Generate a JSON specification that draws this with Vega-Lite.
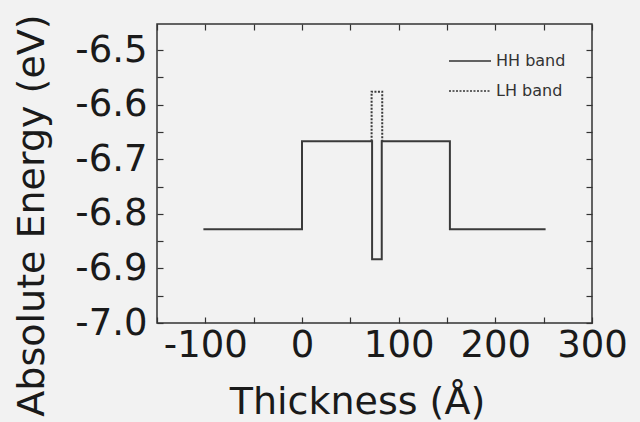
{
  "$schema": "https://vega.github.io/schema/vega-lite/v6.json",
  "width": 435,
  "height": 299,
  "autosize": {"type": "none"},
  "padding": {"left": 157, "top": 24, "right": 48, "bottom": 99},
  "background": "#f2f2f2",
  "config": {
    "font": "DejaVu Sans",
    "view": {"stroke": "#333333", "strokeWidth": 1.5},
    "axis": {"grid": false, "domain": false, "tickColor": "#333333", "tickWidth": 1.2, "labelColor": "#1a1a1a", "titleColor": "#1a1a1a", "labelFont": "DejaVu Sans", "titleFont": "DejaVu Sans", "titleFontWeight": "normal"}
  },
  "data": {
    "values": [
      {"band": "HH band", "i": 0, "x": -102, "y": -6.828},
      {"band": "HH band", "i": 1, "x": 0, "y": -6.828},
      {"band": "HH band", "i": 2, "x": 0, "y": -6.667},
      {"band": "HH band", "i": 3, "x": 72.5, "y": -6.667},
      {"band": "HH band", "i": 4, "x": 72.5, "y": -6.883},
      {"band": "HH band", "i": 5, "x": 82.5, "y": -6.883},
      {"band": "HH band", "i": 6, "x": 82.5, "y": -6.667},
      {"band": "HH band", "i": 7, "x": 153, "y": -6.667},
      {"band": "HH band", "i": 8, "x": 153, "y": -6.828},
      {"band": "HH band", "i": 9, "x": 252, "y": -6.828},
      {"band": "LH band", "i": 0, "x": 72, "y": -6.667},
      {"band": "LH band", "i": 1, "x": 72, "y": -6.576},
      {"band": "LH band", "i": 2, "x": 83, "y": -6.576},
      {"band": "LH band", "i": 3, "x": 83, "y": -6.667}
    ]
  },
  "layer": [
    {
      "mark": {"type": "line", "stroke": "#3a3a3a", "strokeWidth": 2},
      "encoding": {
        "x": {
          "field": "x", "type": "quantitative",
          "scale": {"domain": [-150, 300], "nice": false, "zero": false},
          "axis": {
            "values": [-150, -100, -50, 0, 50, 100, 150, 200, 250, 300],
            "labelExpr": "datum.value % 100 == 0 ? replace(format(datum.value, 'd'), '\u2212', '-') : ''",
            "tickSize": -6, "labelPadding": 10, "labelFontSize": 37, "labelFlush": false,
            "title": "Thickness (\u00c5)", "titleFontSize": 38,
            "titleX": 200, "titleY": 90, "titleBaseline": "alphabetic", "titleAnchor": "middle", "titleAlign": "center"
          }
        },
        "y": {
          "field": "y", "type": "quantitative",
          "scale": {"domain": [-7.0, -6.452], "nice": false, "zero": false},
          "axis": {
            "values": [-7.0, -6.95, -6.9, -6.85, -6.8, -6.75, -6.7, -6.65, -6.6, -6.55, -6.5],
            "labelExpr": "abs(datum.value*10 - round(datum.value*10)) < 0.001 ? replace(format(datum.value, '.1f'), '\u2212', '-') : ''",
            "tickSize": -6, "labelPadding": 16, "labelFontSize": 37,
            "title": "Absolute Energy (eV)", "titleFontSize": 38,
            "titleX": -125, "titleY": 191, "titleBaseline": "middle", "titleAngle": -90, "titleAlign": "center"
          }
        },
        "order": {"field": "i", "type": "quantitative"},
        "strokeDash": {
          "field": "band", "type": "nominal",
          "scale": {"domain": ["HH band", "LH band"], "range": [[1, 0], [2, 1.5]]},
          "legend": {
            "title": null, "orient": "none", "legendX": 291, "legendY": 15,
            "symbolType": "stroke", "symbolSize": 1764, "symbolStrokeColor": "#333333", "symbolStrokeWidth": 1.5,
            "labelFontSize": 16, "labelColor": "#333333", "labelOffset": 4, "rowPadding": -2
          }
        }
      }
    },
    {
      "mark": {"type": "line", "opacity": 0},
      "encoding": {
        "x": {"field": "x", "type": "quantitative", "axis": {"orient": "top", "values": [-150, -100, -50, 0, 50, 100, 150, 200, 250, 300], "labels": false, "title": null, "tickSize": -6}},
        "y": {"field": "y", "type": "quantitative", "axis": {"orient": "right", "values": [-7.0, -6.95, -6.9, -6.85, -6.8, -6.75, -6.7, -6.65, -6.6, -6.55, -6.5], "labels": false, "title": null, "tickSize": -6}},
        "detail": {"field": "band", "type": "nominal"}
      }
    }
  ],
  "resolve": {"axis": {"x": "independent", "y": "independent"}}
}
